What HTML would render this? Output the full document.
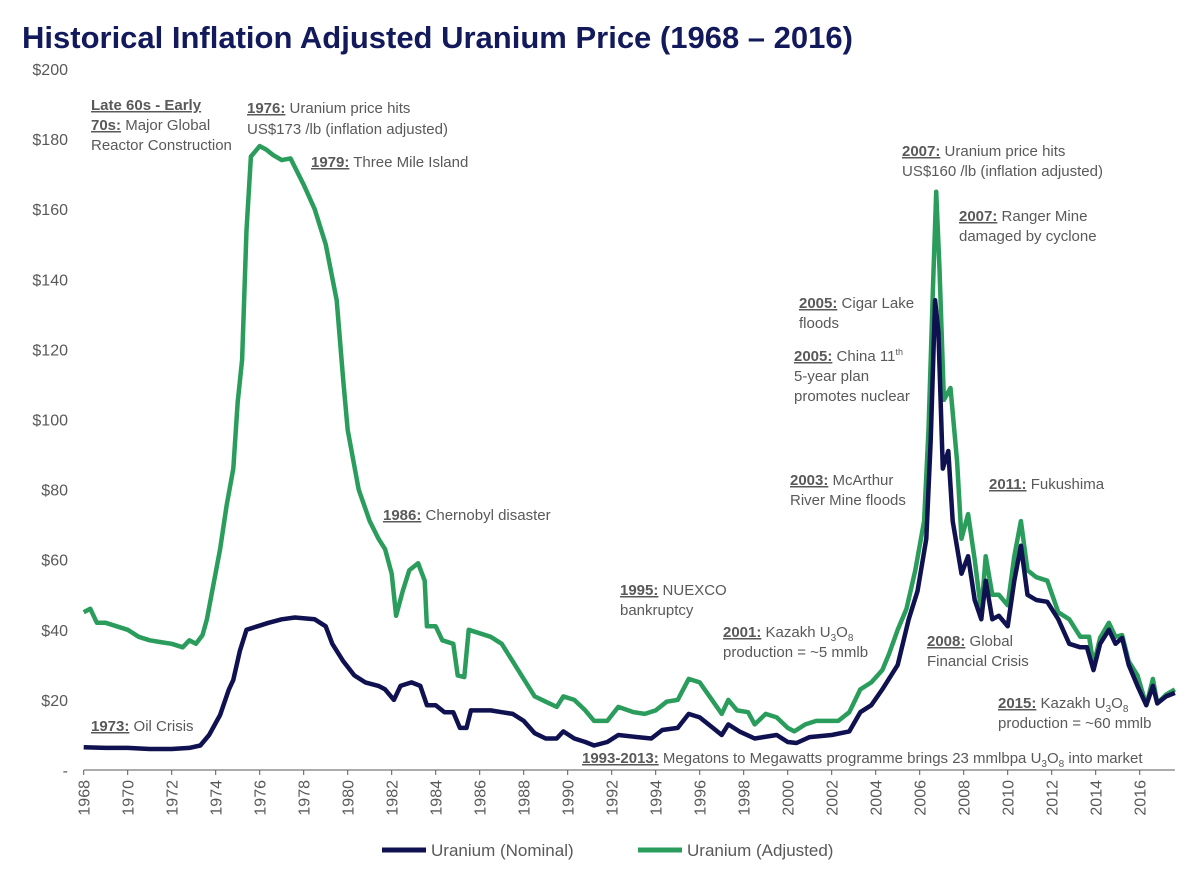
<!DOCTYPE html>
<html><head><meta charset="utf-8"><style>
html,body{margin:0;padding:0;background:#fff;}
svg{display:block;font-family:"Liberation Sans",Arial,sans-serif;}
.ann{font-size:15px;fill:#595959;}
.ann .b{font-weight:bold;text-decoration:underline;}
.yl{font-size:16px;fill:#595959;text-anchor:end;}
.xl{font-size:16px;fill:#595959;}
</style></head><body>
<svg id="chart" width="1200" height="877" viewBox="0 0 1200 877">
<text x="22" y="48" font-size="31" font-weight="bold" fill="#121a5c">Historical Inflation Adjusted Uranium Price (1968 – 2016)</text>
<g id="yaxis"></g>
<g id="xaxis"></g>
<g id="series"></g>
<g>
<text class="ann" x="91" y="110"><tspan class="b">Late 60s - Early</tspan></text>
<text class="ann" x="91" y="130"><tspan class="b">70s:</tspan> Major Global</text>
<text class="ann" x="91" y="150">Reactor Construction</text>
<text class="ann" x="247" y="113"><tspan class="b">1976:</tspan> Uranium price hits</text>
<text class="ann" x="247" y="134">US$173 /lb (inflation adjusted)</text>
<text class="ann" x="311" y="167"><tspan class="b">1979:</tspan> Three Mile Island</text>
<text class="ann" x="383" y="520"><tspan class="b">1986:</tspan> Chernobyl disaster</text>
<text class="ann" x="91" y="731"><tspan class="b">1973:</tspan> Oil Crisis</text>
<text class="ann" x="620" y="595"><tspan class="b">1995:</tspan> NUEXCO</text>
<text class="ann" x="620" y="615">bankruptcy</text>
<text class="ann" x="723" y="637"><tspan class="b">2001:</tspan> Kazakh U<tspan font-size="10" dy="4">3</tspan><tspan dy="-4">O</tspan><tspan font-size="10" dy="4">8</tspan></text>
<text class="ann" x="723" y="657">production = ~5 mmlb</text>
<text class="ann" x="582" y="763"><tspan class="b">1993-2013:</tspan> Megatons to Megawatts programme brings 23 mmlbpa U<tspan font-size="10" dy="4">3</tspan><tspan dy="-4">O</tspan><tspan font-size="10" dy="4">8</tspan><tspan dy="-4"> into market</tspan></text>
<text class="ann" x="790" y="485"><tspan class="b">2003:</tspan> McArthur</text>
<text class="ann" x="790" y="505">River Mine floods</text>
<text class="ann" x="799" y="308"><tspan class="b">2005:</tspan> Cigar Lake</text>
<text class="ann" x="799" y="328">floods</text>
<text class="ann" x="794" y="361"><tspan class="b">2005:</tspan> China 11<tspan font-size="9" dy="-6">th</tspan></text>
<text class="ann" x="794" y="381">5-year plan</text>
<text class="ann" x="794" y="401">promotes nuclear</text>
<text class="ann" x="902" y="156"><tspan class="b">2007:</tspan> Uranium price hits</text>
<text class="ann" x="902" y="176">US$160 /lb (inflation adjusted)</text>
<text class="ann" x="959" y="221"><tspan class="b">2007:</tspan> Ranger Mine</text>
<text class="ann" x="959" y="241">damaged by cyclone</text>
<text class="ann" x="989" y="489"><tspan class="b">2011:</tspan> Fukushima</text>
<text class="ann" x="927" y="646"><tspan class="b">2008:</tspan> Global</text>
<text class="ann" x="927" y="666">Financial Crisis</text>
<text class="ann" x="998" y="708"><tspan class="b">2015:</tspan> Kazakh U<tspan font-size="10" dy="4">3</tspan><tspan dy="-4">O</tspan><tspan font-size="10" dy="4">8</tspan></text>
<text class="ann" x="998" y="728">production = ~60 mmlb</text>
</g>
<g>
<line x1="382" y1="850" x2="426" y2="850" stroke="#0f1150" stroke-width="5"/>
<text x="431" y="856" font-size="17" fill="#595959">Uranium (Nominal)</text>
<line x1="638" y1="850" x2="682" y2="850" stroke="#2a9d5c" stroke-width="5"/>
<text x="687" y="856" font-size="17" fill="#595959">Uranium (Adjusted)</text>
</g>
</svg>
<script>
const yTicks = [0,20,40,60,80,100,120,140,160,180,200];
const xTicks = [1968,1970,1972,1974,1976,1978,1980,1982,1984,1986,1988,1990,1992,1994,1996,1998,2000,2002,2004,2006,2008,2010,2012,2014,2016];
const adjustedYears = [1968,1968.3,1968.6,1969,1969.5,1970,1970.5,1971,1971.5,1972,1972.5,1972.8,1973.1,1973.4,1973.6,1973.9,1974.2,1974.5,1974.8,1975,1975.2,1975.4,1975.6,1976,1976.3,1976.6,1977,1977.4,1978,1978.5,1979,1979.5,1979.8,1980,1980.5,1981,1981.4,1981.7,1982,1982.2,1982.5,1982.8,1983.2,1983.5,1983.6,1984,1984.3,1984.8,1985,1985.3,1985.5,1986,1986.5,1987,1987.5,1988,1988.5,1989,1989.5,1989.8,1990.3,1990.8,1991.2,1991.8,1992.3,1993,1993.5,1994,1994.5,1995,1995.5,1996,1996.5,1997,1997.3,1997.7,1998.2,1998.5,1999,1999.5,2000,2000.3,2000.8,2001.3,2001.8,2002.3,2002.8,2003.3,2003.8,2004.3,2004.6,2005,2005.4,2005.8,2006.2,2006.4,2006.6,2006.75,2006.9,2007.1,2007.4,2007.7,2007.9,2008.2,2008.5,2008.8,2009,2009.3,2009.6,2010,2010.3,2010.6,2010.9,2011.3,2011.8,2012.3,2012.8,2013.3,2013.7,2013.9,2014.2,2014.6,2014.9,2015.2,2015.5,2015.9,2016.3,2016.6,2016.8,2017.2,2017.6];
const adjustedValues = [45,46,42,42,41,40,38,37,36.5,36,35,37,36,38.5,43,53,63,75.6,86,105,117,154,175,178,177,175.5,174,174.5,167,160,150,134,111,97,80,71,66,63,56,44,51,57,59,54,41,41,37,36,27,26.5,40,39,38,36,31,26,21,19.5,18,21,20,17,14,14,18,16.5,16,17,19.5,20,26,25,20.5,16,20,17,16.5,13,16,15,12,11,13,14,14,14,16.5,23,25,28.5,33,40,46,57,71,97,137,165,143,105.6,109,88,66,73,60,45,61,50,50,47,61,71,57,55,54,45,43,38,38,30,37.7,42,38,38.5,31,27,18.5,26,19,21.5,23];
const nominalYears = [1968,1969,1970,1971,1972,1972.8,1973.3,1973.7,1974.2,1974.6,1974.8,1975.1,1975.4,1975.9,1976.4,1977,1977.6,1978.5,1979,1979.3,1979.8,1980.3,1980.8,1981.4,1981.7,1982.1,1982.4,1982.9,1983.3,1983.6,1984,1984.4,1984.8,1985.1,1985.4,1985.6,1986.5,1987,1987.5,1988,1988.5,1989,1989.5,1989.8,1990.3,1990.8,1991.2,1991.8,1992.3,1993,1993.8,1994.3,1995,1995.5,1996,1996.6,1997,1997.3,1997.8,1998.5,1999.5,2000,2000.4,2001,2002,2002.8,2003.3,2003.8,2004.3,2004.7,2005,2005.5,2005.9,2006.3,2006.5,2006.7,2006.85,2007.05,2007.3,2007.5,2007.9,2008.2,2008.5,2008.8,2009,2009.3,2009.6,2010,2010.3,2010.6,2010.9,2011.3,2011.8,2012.3,2012.8,2013.3,2013.6,2013.9,2014.2,2014.6,2014.9,2015.2,2015.5,2015.9,2016.3,2016.6,2016.8,2017.2,2017.6];
const nominalValues = [6.5,6.3,6.3,6,6,6.3,7,10,15.7,23,25.7,34,40,41,42,43,43.5,43,41,36,31,27,25,24,23,20,24,25,24,18.5,18.5,16.5,16.5,12,12,17,17,16.5,16,14,10.5,9,9,11,9,8,7,8,10,9.5,9,11.4,12,16,15,12,10,13,11,9,10,8,7.7,9.4,10,11,16.5,18.5,23,27,30,43,51,66,94,134,125,86,91,71,56,61,48.5,43,54,43,44,41,54,64,50,48.5,48,43,36,35,35,28.5,36,40,36,37.7,30,24,18.5,24,19,21,22];

const NS = 'http://www.w3.org/2000/svg';
function xScale(yr){ return 83.7 + (yr - 1968) * 22; }
function yScale(v){ return 770 - v * 3.505; }
const yAxis = document.getElementById('yaxis');
yTicks.forEach(function(t){
  const tx = document.createElementNS(NS,'text');
  tx.setAttribute('class','yl');
  tx.setAttribute('x', 68);
  tx.setAttribute('y', yScale(t) + 6);
  tx.textContent = t === 0 ? '-' : '$' + t;
  
  
  yAxis.appendChild(tx);
});
const xAxis = document.getElementById('xaxis');
const axisLine = document.createElementNS(NS,'line');
axisLine.setAttribute('x1', xScale(1968)); axisLine.setAttribute('x2', xScale(2017.6));
axisLine.setAttribute('y1', 770); axisLine.setAttribute('y2', 770);
axisLine.setAttribute('stroke', '#595959'); axisLine.setAttribute('stroke-width', '1');


xAxis.appendChild(axisLine);
xTicks.forEach(function(t){
  const x = xScale(t);
  const tk = document.createElementNS(NS,'line');
  tk.setAttribute('x1', x); tk.setAttribute('x2', x);
  tk.setAttribute('y1', 770); tk.setAttribute('y2', 775);
  tk.setAttribute('stroke', '#595959');
  
  
  xAxis.appendChild(tk);
  const tx = document.createElementNS(NS,'text');
  tx.setAttribute('class','xl');
  tx.setAttribute('text-anchor','end');
  tx.setAttribute('transform', 'translate(' + (x + 6) + ',780) rotate(-90)');
  tx.textContent = t;
  
  
  xAxis.appendChild(tx);
});
const series = document.getElementById('series');
function drawLine(years, vals, color, name){
  const p = document.createElementNS(NS,'path');
  let d = '';
  years.forEach(function(yr, i){ d += (i ? 'L' : 'M') + xScale(yr).toFixed(1) + ',' + yScale(vals[i]).toFixed(1); });
  p.setAttribute('d', d);
  p.setAttribute('fill','none');
  p.setAttribute('stroke', color);
  p.setAttribute('stroke-width','4.5');
  p.setAttribute('stroke-linejoin','round');
  
  
  series.appendChild(p);
}
drawLine(adjustedYears, adjustedValues, '#2a9d5c', 'adjusted-price-line');
drawLine(nominalYears, nominalValues, '#0f1150', 'nominal-price-line');
</script>
</body></html>
